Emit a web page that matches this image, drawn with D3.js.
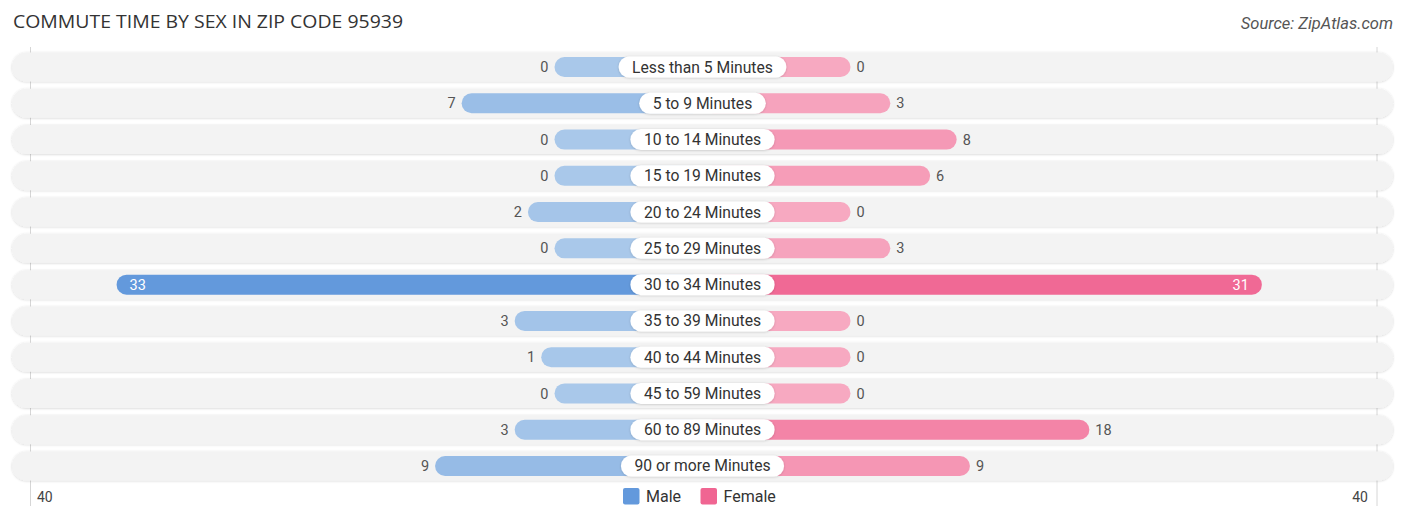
<!DOCTYPE html>
<html>
<head>
<meta charset="utf-8">
<script src="https://cdn.jsdelivr.net/npm/d3@7"></script>
<style>
  body { margin: 0; background: #fff; }
  svg { display: block; font-family: Roboto, "Noto Sans", sans-serif; }
</style>
</head>
<body>
<div id="chart"></div>
<script>
const categories = [
  "Less than 5 Minutes", "5 to 9 Minutes", "10 to 14 Minutes", "15 to 19 Minutes",
  "20 to 24 Minutes", "25 to 29 Minutes", "30 to 34 Minutes", "35 to 39 Minutes",
  "40 to 44 Minutes", "45 to 59 Minutes", "60 to 89 Minutes", "90 or more Minutes"
];
const male = [0, 7, 0, 0, 2, 0, 33, 3, 1, 0, 3, 9];
const female = [0, 3, 8, 6, 0, 3, 31, 0, 0, 0, 18, 9];
const axisTicks = [40];
const seriesNames = ["Male", "Female"];

const width = 1406;
const height = 522;
const cx = 702.5;
const rowLeft = 12, rowRight = 1393;

const data = categories.map((c, i) => ({ cat: c, male: male[i], female: female[i] }));

const svg = d3.select("#chart")
  .append("svg")
  .attr("width", width)
  .attr("height", height)
  .attr("viewBox", [0, 0, width, height]);

const defs = svg.append("defs");
defs.append("filter").attr("id", "rowShadow")
  .attr("x", "-5%").attr("y", "-30%").attr("width", "110%").attr("height", "160%")
  .append("feDropShadow")
  .attr("dx", 0).attr("dy", 0.5).attr("stdDeviation", 1)
  .attr("flood-color", "#000").attr("flood-opacity", 0.18);
defs.append("filter").attr("id", "pillShadow")
  .attr("x", "-10%").attr("y", "-40%").attr("width", "120%").attr("height", "180%")
  .append("feDropShadow")
  .attr("dx", 0).attr("dy", 0.5).attr("stdDeviation", 1)
  .attr("flood-color", "#000").attr("flood-opacity", 0.2);

// bar length from centre: fixed part hidden under the label + value part
const x = d3.scaleLinear()
  .domain([0, 40])
  .range([148, 148 + 40 * 13.27]);

const y = d3.scaleBand()
  .domain(categories)
  .range([48.9, 484.1])
  .padding(0);

const maxV = d3.max(data, d => Math.max(d.male, d.female));
const maleColor = d3.scaleLinear().domain([0, maxV]).range(["#a9c8ea", "#6399dc"]);
const femaleColor = d3.scaleLinear().domain([0, maxV]).range(["#f7a9c1", "#f06592"]);

// grid lines at the chart edges
svg.append("g")
  .selectAll("line")
  .data([rowLeft + 18.5, rowRight - 16])
  .join("line")
  .attr("x1", d => d).attr("x2", d => d)
  .attr("y1", 47).attr("y2", 506)
  .attr("stroke", "#d6d6d6")
  .attr("stroke-width", 1);

const rowH = 29;
const barH = 20;

const rows = svg.append("g")
  .selectAll("g")
  .data(data)
  .join("g")
  .attr("transform", d => `translate(0,${y(d.cat) + y.bandwidth() / 2})`);

rows.append("rect")
  .attr("x", rowLeft)
  .attr("y", -rowH / 2)
  .attr("width", rowRight - rowLeft)
  .attr("height", rowH)
  .attr("rx", rowH / 2)
  .attr("fill", "#f3f3f3")
  .attr("filter", "url(#rowShadow)");

rows.append("rect")
  .attr("x", d => cx - x(d.male))
  .attr("y", -barH / 2)
  .attr("width", d => x(d.male))
  .attr("height", barH)
  .attr("rx", barH / 2)
  .attr("fill", d => maleColor(d.male));

rows.append("rect")
  .attr("x", cx)
  .attr("y", -barH / 2)
  .attr("width", d => x(d.female))
  .attr("height", barH)
  .attr("rx", barH / 2)
  .attr("fill", d => femaleColor(d.female));

const inside = v => v >= 20;

rows.append("text")
  .attr("x", d => inside(d.male) ? cx - x(d.male) + 13 : cx - x(d.male) - 6)
  .attr("y", 0)
  .attr("dy", "0.35em")
  .attr("text-anchor", d => inside(d.male) ? "start" : "end")
  .attr("font-size", 14.5)
  .attr("fill", d => inside(d.male) ? "#fff" : "#555")
  .text(d => d.male);

rows.append("text")
  .attr("x", d => inside(d.female) ? cx + x(d.female) - 13 : cx + x(d.female) + 6)
  .attr("y", 0)
  .attr("dy", "0.35em")
  .attr("text-anchor", d => inside(d.female) ? "end" : "start")
  .attr("font-size", 14.5)
  .attr("fill", d => inside(d.female) ? "#fff" : "#555")
  .text(d => d.female);

// category pills in the centre
const pills = rows.append("g");
const pillText = pills.append("text")
  .attr("x", cx)
  .attr("y", 0)
  .attr("dy", "0.35em")
  .attr("text-anchor", "middle")
  .attr("font-size", 15.7)
  .attr("fill", "#333")
  .text(d => d.cat);

pillText.each(function () {
  const w = this.getComputedTextLength() + 27;
  d3.select(this.parentNode).insert("rect", "text")
    .attr("x", cx - w / 2)
    .attr("y", -10.5)
    .attr("width", w)
    .attr("height", 21)
    .attr("rx", 10.5)
    .attr("fill", "#fff")
    .attr("filter", "url(#pillShadow)");
});

// axis end labels
svg.append("g")
  .selectAll("text")
  .data(axisTicks.flatMap(t => [{ v: t, side: -1 }, { v: t, side: 1 }]))
  .join("text")
  .attr("x", d => d.side < 0 ? rowLeft + 25 : rowRight - 25)
  .attr("y", 502)
  .attr("text-anchor", d => d.side < 0 ? "start" : "end")
  .attr("font-size", 14)
  .attr("fill", "#444")
  .text(d => d.v);

// legend
const legend = svg.append("g")
  .selectAll("g")
  .data(seriesNames)
  .join("g")
  .attr("transform", (d, i) => `translate(${i === 0 ? 623 : 700.5},488)`);

legend.append("rect")
  .attr("width", 16.5)
  .attr("height", 16.5)
  .attr("rx", 2)
  .attr("fill", (d, i) => i === 0 ? maleColor(maxV) : femaleColor(maxV));

legend.append("text")
  .attr("x", 23)
  .attr("y", 8.5)
  .attr("dy", "0.35em")
  .attr("font-size", 16)
  .attr("fill", "#333")
  .text(d => d);

// title and source
svg.append("text")
  .attr("x", 13)
  .attr("y", 28)
  .attr("font-family", "'Open Sans', sans-serif")
  .attr("font-size", 18.5)
  .attr("textLength", 390)
  .attr("lengthAdjust", "spacingAndGlyphs")
  .attr("fill", "#333")
  .text("COMMUTE TIME BY SEX IN ZIP CODE 95939");

svg.append("text")
  .attr("x", 1393)
  .attr("y", 29)
  .attr("text-anchor", "end")
  .attr("font-size", 16.5)
  .attr("font-style", "italic")
  .attr("fill", "#555")
  .text("Source: ZipAtlas.com");
</script>
</body>
</html>
